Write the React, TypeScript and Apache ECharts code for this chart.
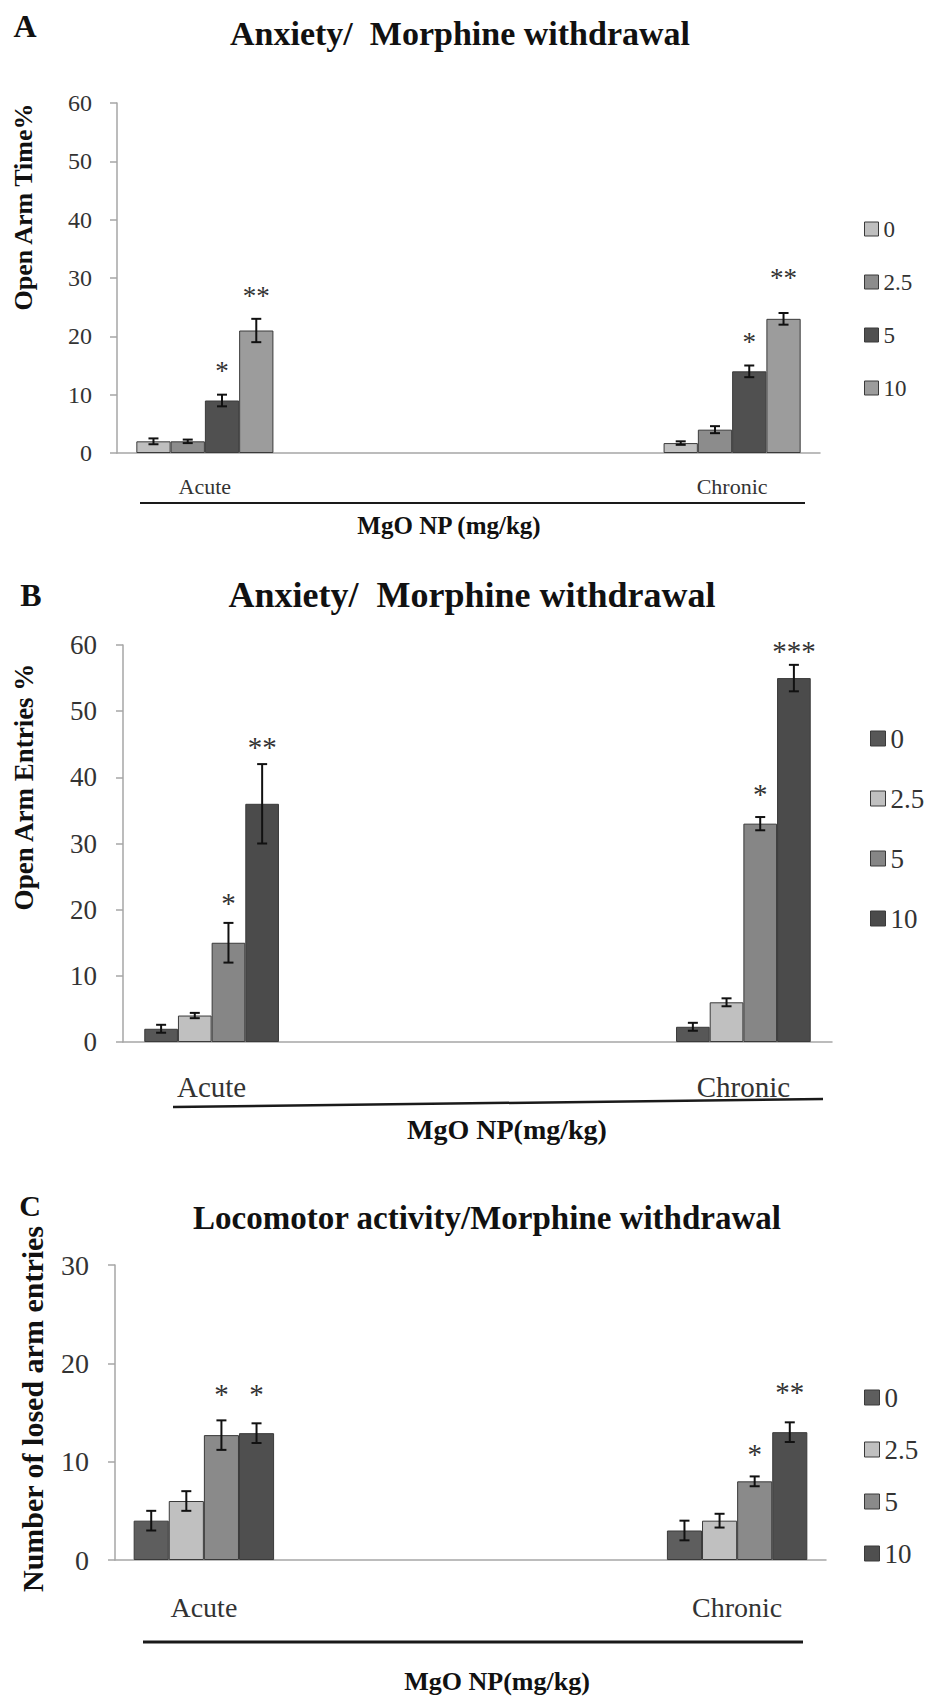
import React, { useEffect, useRef } from 'react';
import * as echarts from 'echarts';

const FONT = 'Liberation Serif';

// Shared categories (two empty slots separate the groups, as in the source chart)
const categories = ['Acute', '', '', 'Chronic'];
const doses = ['0', '2.5', '5', '10'];

// Panel A: Open Arm Time %
const aAcuteMean = [2, 2, 9, 21];
const aChronicMean = [1.7, 4, 14, 23];
const aAcuteErr = [0.5, 0.3, 1, 2];
const aChronicErr = [0.3, 0.6, 1, 1];
// [category index, dose index, y value of the mark, number of stars]
const aStars = [[0, 2, 15, 1], [0, 3, 28, 2], [3, 2, 20, 1], [3, 3, 31, 2]];

// Panel B: Open Arm Entries %
const bAcuteMean = [2, 4, 15, 36];
const bChronicMean = [2.3, 6, 33, 55];
const bAcuteErr = [0.6, 0.4, 3, 6];
const bChronicErr = [0.6, 0.6, 1, 2];
const bStars = [[0, 2, 22, 1], [0, 3, 45.5, 2], [3, 2, 38.5, 1], [3, 3, 60, 3]];

// Panel C: Number of closed arm entries
const cAcuteMean = [4, 6, 12.7, 12.9];
const cChronicMean = [3, 4, 8, 13];
const cAcuteErr = [1, 1, 1.5, 1];
const cChronicErr = [1, 0.7, 0.5, 1];
const cStars = [[0, 2, 17.5, 1], [0, 3, 17.5, 1], [3, 2, 11.4, 1], [3, 3, 17.7, 2]];

const yMaxA = 60;
const yMaxB = 60;
const yMaxC = 30;

const panels = [
  {
    key: 'A', acute: aAcuteMean, chronic: aChronicMean, acuteErr: aAcuteErr, chronicErr: aChronicErr, stars: aStars,
    yMax: yMaxA,
    colors: ['#bfbfbf', '#8c8c8c', '#505050', '#9c9c9c'],
    grid: { left: 117, top: 103, width: 703, height: 350 },
    gap: 0.22, tickFont: 24, tickMargin: 25, catFont: 22, catMargin: 22, starFont: 27,
    legend: { left: 864, top: 217, size: 14, font: 23, lh: 24, gap: 29 },
  },
  {
    key: 'B', acute: bAcuteMean, chronic: bChronicMean, acuteErr: bAcuteErr, chronicErr: bChronicErr, stars: bStars,
    yMax: yMaxB,
    colors: ['#575757', '#c0c0c0', '#868686', '#4b4b4b'],
    grid: { left: 123, top: 645, width: 709, height: 397 },
    gap: 0.24, tickFont: 27, tickMargin: 26, catFont: 29, catMargin: 30, starFont: 29,
    legend: { left: 870, top: 725, size: 15, font: 27, lh: 26, gap: 33 },
  },
  {
    key: 'C', acute: cAcuteMean, chronic: cChronicMean, acuteErr: cAcuteErr, chronicErr: cChronicErr, stars: cStars,
    yMax: yMaxC,
    colors: ['#5e5e5e', '#c0c0c0', '#8a8a8a', '#4f4f4f'],
    grid: { left: 115, top: 1265, width: 711, height: 295 },
    gap: 0.21, tickFont: 28, tickMargin: 26, catFont: 28, catMargin: 33, starFont: 29,
    legend: { left: 864, top: 1384, size: 15, font: 27, lh: 26, gap: 25 },
  },
];

function buildOption() {
  const grid: any[] = [];
  const xAxis: any[] = [];
  const yAxis: any[] = [];
  const series: any[] = [];
  const legend: any[] = [];

  panels.forEach((p, idx) => {
    grid.push({ ...p.grid, containLabel: false });
    xAxis.push({
      type: 'category', gridIndex: idx, data: categories,
      axisLine: { show: true, lineStyle: { color: '#a6a6a6', width: 1.5 } },
      axisTick: { show: false },
      axisLabel: { interval: 0, fontFamily: FONT, fontSize: p.catFont, color: '#333', margin: p.catMargin },
      splitLine: { show: false },
    });
    yAxis.push({
      type: 'value', gridIndex: idx, min: 0, max: p.yMax, interval: 10,
      axisLine: { show: true, lineStyle: { color: '#a6a6a6', width: 1.5 } },
      axisTick: { show: true, length: 7, lineStyle: { color: '#a6a6a6', width: 1.5 } },
      axisLabel: { fontFamily: FONT, fontSize: p.tickFont, color: '#333', margin: p.tickMargin },
      splitLine: { show: false },
    });
    doses.forEach((d, i) => {
      series.push({
        type: 'bar', name: `${p.key}:${d}`, xAxisIndex: idx, yAxisIndex: idx,
        data: [p.acute[i], null, null, p.chronic[i]],
        barGap: '0%', barCategoryGap: `${Math.round(p.gap * 100)}%`,
        itemStyle: { color: p.colors[i], borderColor: '#3a3a3a', borderWidth: 1 },
        z: 2,
      });
    });
    const errData: number[][] = [];
    doses.forEach((_, i) => {
      errData.push([0, p.acute[i], p.acuteErr[i], i]);
      errData.push([3, p.chronic[i], p.chronicErr[i], i]);
    });
    const gap = p.gap;
    series.push({
      type: 'custom', name: `${p.key}-err`, xAxisIndex: idx, yAxisIndex: idx,
      data: errData, encode: { x: 0, y: 1 }, z: 10, silent: true,
      renderItem: (params: any, api: any) => {
        const cat = api.value(0);
        const v = api.value(1);
        const e = api.value(2);
        const s = api.value(3);
        const band = api.size([1, 0])[0];
        const bw = (band * (1 - gap)) / 4;
        const c = api.coord([cat, v]);
        const x = c[0] + (s - 1.5) * bw;
        const yt = api.coord([cat, v + e])[1];
        const yb = api.coord([cat, Math.max(0, v - e)])[1];
        const cap = 5;
        const st = { stroke: '#111', lineWidth: 2 };
        return {
          type: 'group',
          children: [
            { type: 'line', shape: { x1: x, y1: yt, x2: x, y2: yb }, style: st },
            { type: 'line', shape: { x1: x - cap, y1: yt, x2: x + cap, y2: yt }, style: st },
            { type: 'line', shape: { x1: x - cap, y1: yb, x2: x + cap, y2: yb }, style: st },
          ],
        };
      },
    });
    const fs = p.starFont;
    series.push({
      type: 'custom', name: `${p.key}-stars`, xAxisIndex: idx, yAxisIndex: idx,
      data: p.stars, encode: { x: 0, y: 2 }, z: 10, silent: true,
      renderItem: (params: any, api: any) => {
        const cat = api.value(0);
        const s = api.value(1);
        const yv = api.value(2);
        const n = api.value(3);
        const band = api.size([1, 0])[0];
        const bw = (band * (1 - gap)) / 4;
        const c = api.coord([cat, yv]);
        return {
          type: 'text',
          x: c[0] + (s - 1.5) * bw,
          y: c[1] + fs * 0.22,
          style: {
            text: '*'.repeat(n), font: `${fs}px "${FONT}"`, fill: '#333',
            textAlign: 'center', textVerticalAlign: 'middle',
          },
        };
      },
    });
    legend.push({
      orient: 'vertical', left: p.legend.left, top: p.legend.top, padding: 0,
      itemWidth: p.legend.size, itemHeight: p.legend.size, itemGap: p.legend.gap, itemTextGap: 4,
      icon: 'rect', selectedMode: false,
      data: doses.map((d) => `${p.key}:${d}`),
      formatter: (n: string) => n.split(':')[1],
      itemStyle: { borderColor: '#3a3a3a', borderWidth: 1 },
      textStyle: { fontFamily: FONT, fontSize: p.legend.font, color: '#333', lineHeight: p.legend.lh },
    });
  });

  const txt = (text: string, x: number, y: number, size: number, bold: boolean, rot = 0) => ({
    type: 'text', x, y, rotation: rot,
    style: {
      text, font: `${bold ? 'bold ' : ''}${size}px "${FONT}"`, fill: '#111',
      textAlign: 'center', textVerticalAlign: 'middle',
    },
  });
  const ln = (x1: number, y1: number, x2: number, y2: number, w: number) => ({
    type: 'line', shape: { x1, y1, x2, y2 }, style: { stroke: '#1a1a1a', lineWidth: w },
  });

  const graphic = [
    txt('A', 25, 26, 32, true),
    txt('Anxiety/  Morphine withdrawal', 460, 33, 34, true),
    txt('Open Arm Time%', 23, 207, 26, true, Math.PI / 2),
    ln(140, 503, 805, 503, 2),
    txt('MgO NP (mg/kg)', 449, 525, 25, true),

    txt('B', 31, 595, 32, true),
    txt('Anxiety/  Morphine withdrawal', 472, 595, 36, true),
    txt('Open Arm Entries %', 24, 787, 27, true, Math.PI / 2),
    ln(173, 1107, 823, 1099, 2.5),
    txt('MgO NP(mg/kg)', 507, 1129, 28, true),

    txt('C', 30, 1205, 30, true),
    txt('Locomotor activity/Morphine withdrawal', 487, 1218, 33, true),
    txt('Number of losed arm entries', 32, 1409, 30, true, Math.PI / 2),
    ln(143, 1642, 803, 1642, 3),
    txt('MgO NP(mg/kg)', 497, 1681, 26, true),
  ];

  return {
    animation: false,
    backgroundColor: '#ffffff',
    grid, xAxis, yAxis, series, legend, graphic,
  };
}

export default function App() {
  const ref = useRef<HTMLDivElement>(null);
  useEffect(() => {
    document.body.style.margin = '0';
    if (!ref.current) return;
    const chart = echarts.init(ref.current, null, { renderer: 'svg' });
    chart.setOption(buildOption() as any);
    return () => chart.dispose();
  }, []);
  return <div ref={ref} style={{ width: 925, height: 1698 }} />;
}
